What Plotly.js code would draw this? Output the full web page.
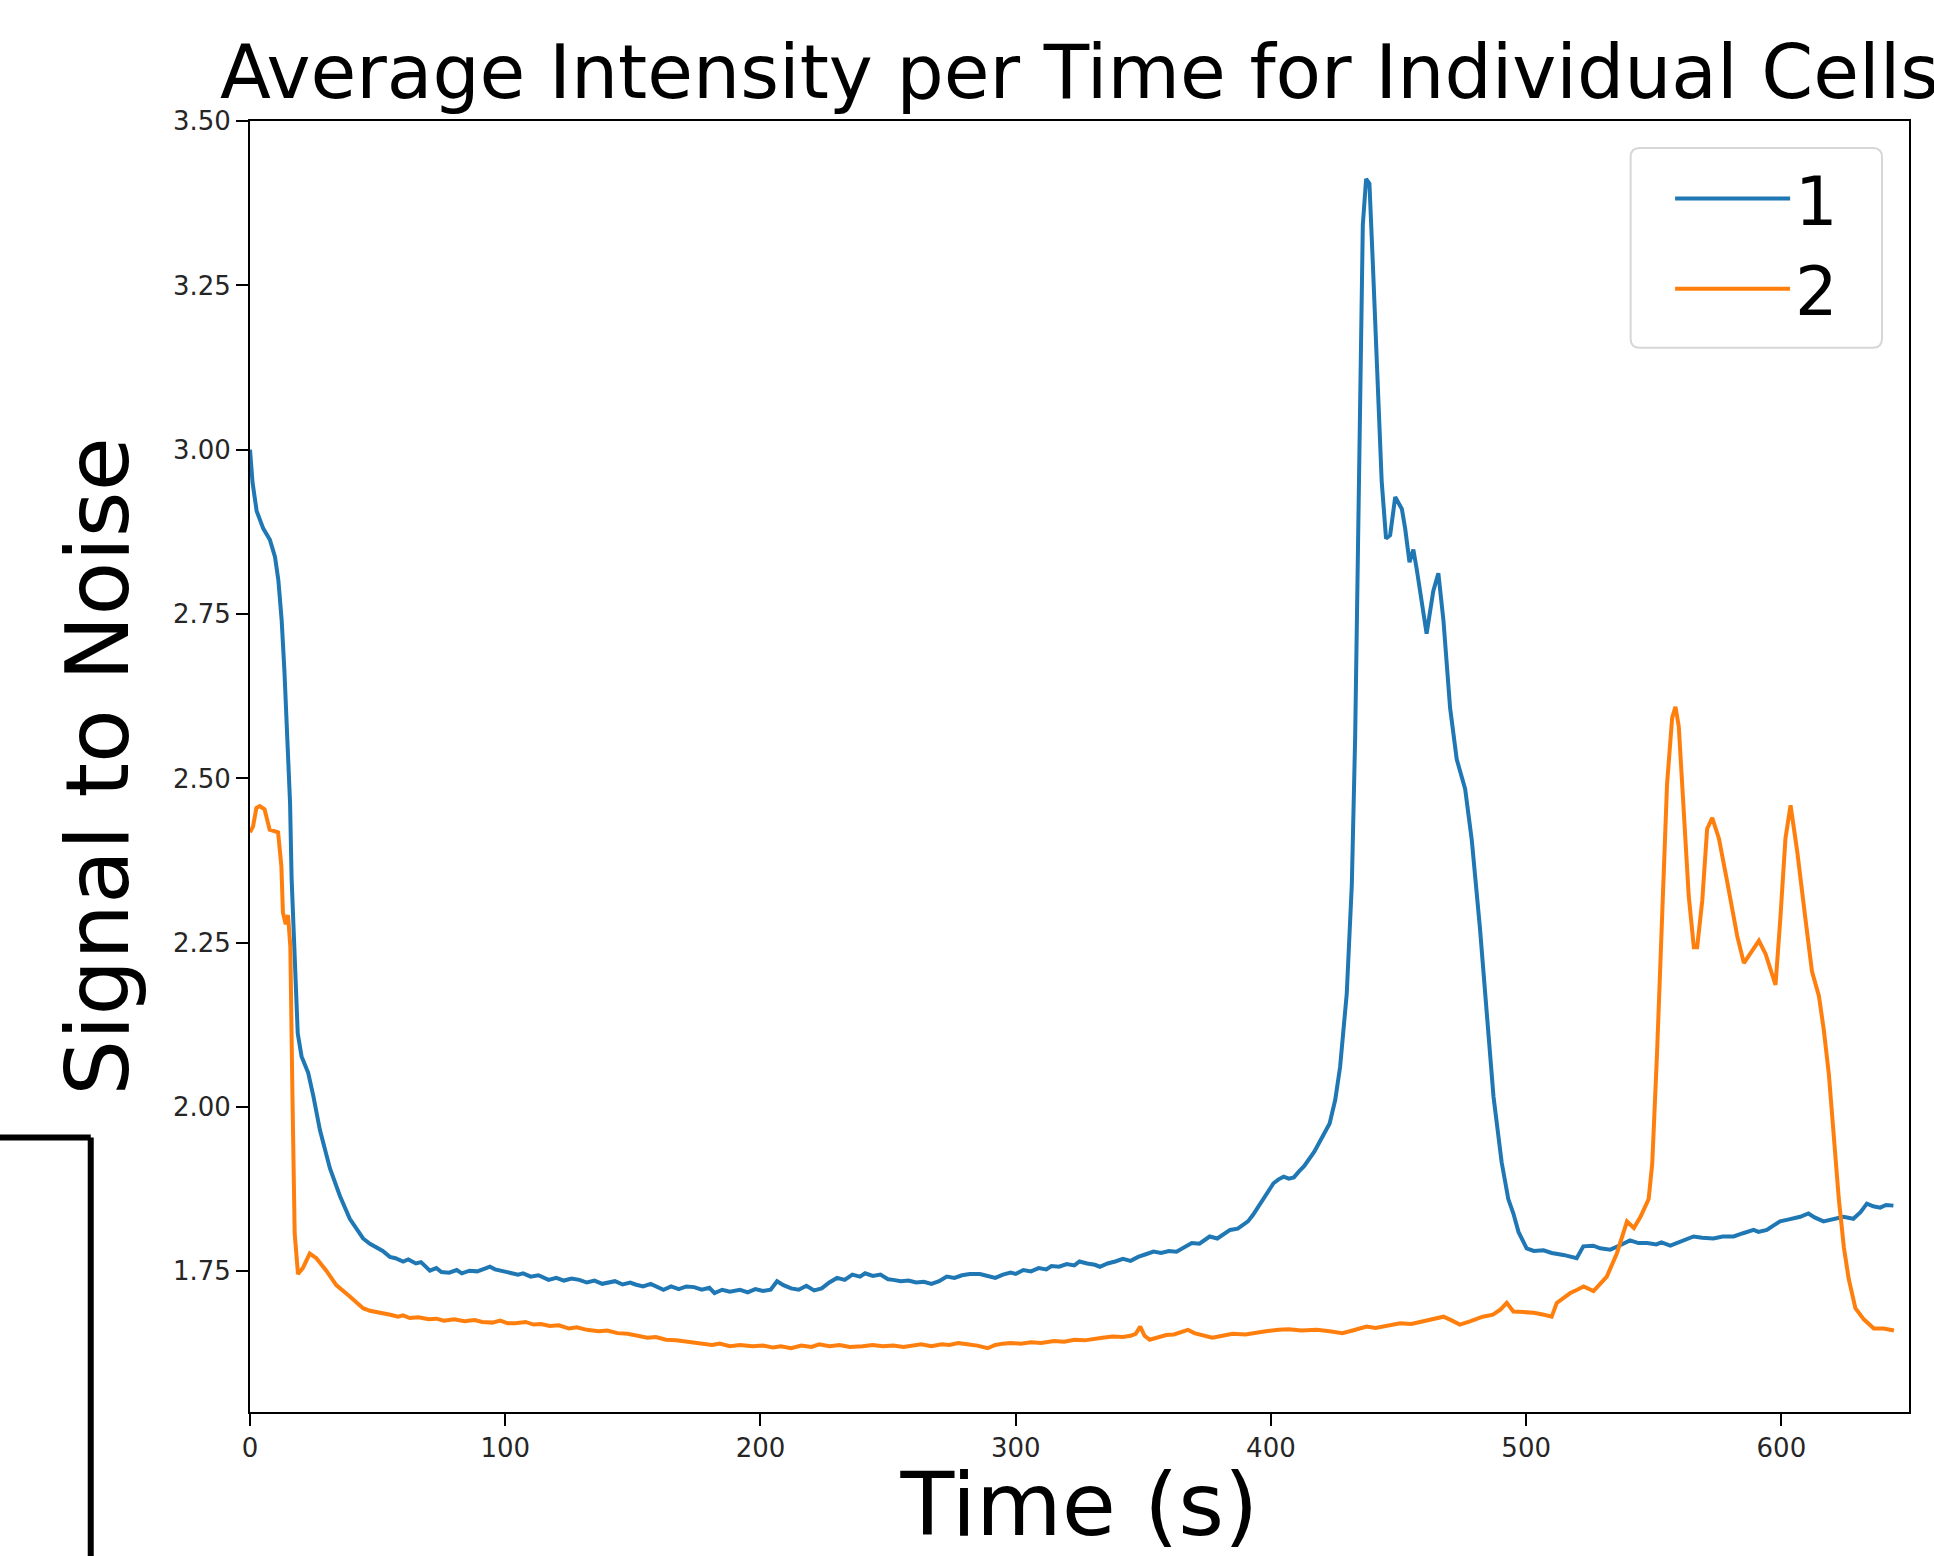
<!DOCTYPE html>
<html>
<head>
<meta charset="utf-8">
<script src="https://cdn.plot.ly/plotly-3.0.1.min.js"></script>
<style>html,body{margin:0;padding:0;background:#fff;}</style>
</head>
<body>
<div id="chart" style="width:1934px;height:1556px;"></div>
<script>
// ---- data ----
const cell1Time = [0,1,2.6,5.2,7.8,9.8,11.1,12.4,13.5,14.4,15.0,15.7,16.3,17.0,17.6,18.7,20.2,22.8,24.8,27.4,31.3,35.2,39.1,
  44.3,47,49.6,52,54.8,57,60,62,65,67,70.5,73,75,78,81,83,86,89,92,94,96,99,102,105,107,110,113,117,120,123,126,129,132,135,138,140,143,146,149,151,154,157,160,162,165,168,171,174,177,180,182,185,188,192,195,198,201,204,206.5,209,212,215,218,221,224,227,230,233,236,239,241,244,247,250,252,255,258,261,264,267,270,273,276,279,282,286,289,292,295,298,300,303,306,309,312,314,317,320,323,325,328,331,333,336,339,342,345,348,351,354,357,360,363,366,369,372,376,379,382,384,387,389,391,393,395,397,399,401,403,405,407,409,411,413,417,420,423,425.2,427.1,429.7,431.7,433,433.9,435,436,437.3,438.6,439.9,441.5,443.4,445.1,446.7,448.7,451.3,452.6,454.3,455.8,457.1,461,463.6,465.6,467.6,470.2,472.8,476.1,478.7,481.9,484.5,487.2,490.4,493,495,497,
  500.2,503,506.8,510,514.6,517,519.8,522.4,526.3,529,533,537,540.7,544,547.4,551,553,556.5,560,563,565.6,569,573.4,577,581.3,585,589.1,591,594.3,597,599.5,603,607.4,610.6,613,616.5,620,624.3,628.2,631,633.5,636,638.7,641,643.9];
const cell1Snr  = [3.00,2.95,2.907,2.88,2.863,2.837,2.802,2.741,2.662,2.583,2.557,2.462,2.348,2.27,2.191,2.112,2.077,2.052,2.017,1.965,1.907,1.865,1.83,
  1.800,1.792,1.786,1.781,1.772,1.770,1.765,1.768,1.762,1.764,1.751,1.755,1.749,1.748,1.752,1.747,1.751,1.750,1.754,1.757,1.753,1.750,1.747,1.745,1.747,1.742,1.744,1.737,1.740,1.736,1.739,1.737,1.733,1.736,1.731,1.733,1.735,1.730,1.733,1.730,1.727,1.731,1.725,1.722,1.727,1.723,1.727,1.726,1.722,1.725,1.717,1.722,1.719,1.722,1.718,1.723,1.720,1.722,1.735,1.729,1.724,1.722,1.728,1.721,1.724,1.733,1.740,1.737,1.745,1.742,1.747,1.743,1.745,1.738,1.737,1.735,1.736,1.733,1.734,1.731,1.735,1.742,1.740,1.744,1.746,1.746,1.743,1.740,1.745,1.748,1.746,1.752,1.750,1.755,1.753,1.758,1.757,1.761,1.759,1.765,1.762,1.760,1.757,1.762,1.765,1.769,1.766,1.772,1.776,1.780,1.778,1.781,1.780,1.786,1.793,1.792,1.803,1.800,1.808,1.813,1.815,1.820,1.826,1.836,1.848,1.862,1.874,1.884,1.890,1.894,1.891,1.893,1.902,1.910,1.932,1.955,1.975,2.011,2.061,2.172,2.339,2.562,2.785,3.119,3.342,3.412,3.405,3.286,3.119,2.952,2.865,2.87,2.928,2.910,2.88,2.829,2.848,2.819,2.72,2.785,2.812,2.74,2.607,2.529,2.484,2.406,2.272,2.139,2.016,1.916,1.86,1.838,1.81,
  1.785,1.781,1.782,1.778,1.775,1.773,1.770,1.788,1.789,1.785,1.783,1.790,1.797,1.793,1.793,1.791,1.794,1.789,1.795,1.799,1.803,1.801,1.800,1.803,1.803,1.808,1.813,1.810,1.813,1.820,1.826,1.829,1.833,1.838,1.832,1.826,1.829,1.833,1.830,1.840,1.853,1.849,1.847,1.851,1.850];

const cell2Time = [0,1.2,2.5,3.8,5.7,7.7,11,12.3,12.9,14,14.9,15.8,16.6,17.5,18.8,20.7,23.4,26,29.9,33.8,39,
  44.3,47,50,52,55,58,60,62.6,66,70,73,76,80,84,88,91,95,98,101,104,108,111,114,117.5,121,125,128,132,136.5,140,144,148,152,155.7,159,163,167,171,175,178,181,184,188,192,197,201,205,208,212,216,220,223,227,231,235,240,244,248,252,256,259,263,267,271,274,277.5,281,285,289,292,295,298,302,306,310,315,319,323,327,331,334,338,342,345,347,348.8,350.5,352.5,356,359,362,365,367.5,370,374,377,381,385,390,394,398,403,407,412,418,423,428,432,437.5,441,446,450.6,455,460,464,467.6,471,474,478,483,487,490,492.4,495,499,503,507,510,512,515,517.3,520,522.5,526.4,529,531.6,
  535.6,539.5,542.2,544.8,548,549.4,551.3,553.3,555.2,557.2,558.5,559.8,561.8,563.7,565.7,567,569,570.9,572.9,575.5,578.8,582.7,585.3,587.9,591.2,593.8,597.7,599.6,601.6,603.6,606.2,609.4,612,614.7,616.6,618.6,620.5,622.5,624.5,626.4,629,632.3,636.2,640.1,644.1];
const cell2Snr  = [2.418,2.427,2.455,2.458,2.453,2.422,2.418,2.366,2.296,2.278,2.292,2.244,2.026,1.808,1.746,1.755,1.777,1.77,1.751,1.729,1.712,
  1.694,1.690,1.688,1.686,1.684,1.681,1.683,1.679,1.680,1.677,1.678,1.675,1.677,1.674,1.676,1.673,1.672,1.675,1.671,1.671,1.673,1.669,1.670,1.667,1.668,1.663,1.665,1.661,1.659,1.660,1.656,1.655,1.652,1.649,1.650,1.646,1.645,1.643,1.641,1.639,1.638,1.640,1.636,1.638,1.636,1.637,1.634,1.636,1.633,1.637,1.635,1.639,1.636,1.638,1.635,1.636,1.638,1.636,1.637,1.635,1.637,1.639,1.636,1.639,1.638,1.641,1.639,1.637,1.633,1.638,1.640,1.641,1.640,1.642,1.641,1.644,1.643,1.646,1.645,1.648,1.649,1.651,1.650,1.652,1.655,1.666,1.652,1.646,1.650,1.653,1.654,1.657,1.661,1.656,1.652,1.649,1.652,1.655,1.654,1.657,1.659,1.661,1.662,1.660,1.661,1.659,1.656,1.660,1.666,1.664,1.667,1.671,1.670,1.674,1.677,1.681,1.675,1.669,1.674,1.681,1.684,1.692,1.702,1.689,1.688,1.687,1.684,1.681,1.702,1.710,1.717,1.722,1.727,1.720,1.730,1.742,
  1.778,1.826,1.816,1.833,1.86,1.914,2.084,2.287,2.491,2.592,2.609,2.579,2.437,2.321,2.243,2.243,2.314,2.423,2.44,2.409,2.342,2.26,2.219,2.233,2.253,2.233,2.186,2.287,2.409,2.459,2.389,2.287,2.206,2.169,2.118,2.05,1.962,1.86,1.786,1.738,1.694,1.677,1.663,1.663,1.66];

const seriesNames = ['1', '2'];
const xTickVals = [0, 100, 200, 300, 400, 500, 600];
const xTickText = ['0', '100', '200', '300', '400', '500', '600'];
const yTickVals = [1.75, 2.00, 2.25, 2.50, 2.75, 3.00, 3.25, 3.50];
const yTickText = ['1.75', '2.00', '2.25', '2.50', '2.75', '3.00', '3.25', '3.50'];

// ---- chart ----
const FONT = 'DejaVu Sans, Liberation Sans, sans-serif';
const traces = [
  {x: cell1Time, y: cell1Snr, name: seriesNames[0], type: 'scatter', mode: 'lines',
   line: {color: '#1f77b4', width: 4}},
  {x: cell2Time, y: cell2Snr, name: seriesNames[1], type: 'scatter', mode: 'lines',
   line: {color: '#ff7f0e', width: 4}}
];

const axisCommon = {
  showline: true, mirror: true, linecolor: '#000', linewidth: 2,
  ticks: 'outside', ticklen: 12, tickwidth: 2, tickcolor: '#000',
  tickfont: {family: FONT, size: 26, color: '#262626'},
  showgrid: false, zeroline: false, automargin: false
};

// legend frame (rounded box), paper coordinates
const bx0 = 0.8322, bx1 = 0.9837, by0 = 0.8243, by1 = 0.9791, rx = 0.0055, ry = 0.007;
const boxPath = `M${bx0+rx},${by1} L${bx1-rx},${by1} Q${bx1},${by1} ${bx1},${by1-ry} L${bx1},${by0+ry} Q${bx1},${by0} ${bx1-rx},${by0} L${bx0+rx},${by0} Q${bx0},${by0} ${bx0},${by0+ry} L${bx0},${by1-ry} Q${bx0},${by1} ${bx0+rx},${by1} Z`;

const layout = {
  width: 1934, height: 1556,
  margin: {l: 250, r: 25, t: 121, b: 144, pad: 0},
  paper_bgcolor: '#fff', plot_bgcolor: '#fff',
  font: {family: FONT, color: '#000'},
  title: {text: 'Average Intensity per Time for Individual Cells',
          font: {family: FONT, size: 74.4, color: '#000'},
          x: 0.5, xref: 'paper', xanchor: 'center',
          y: 1 - 72 / 1556, yref: 'container', yanchor: 'middle'},
  xaxis: Object.assign({}, axisCommon, {
    range: [0, 650], tickmode: 'array', tickvals: xTickVals, ticktext: xTickText,
    title: {text: 'Time (s)', font: {family: FONT, size: 88, color: '#000'}, standoff: 16}
  }),
  yaxis: Object.assign({}, axisCommon, {
    range: [1.536, 3.5002], tickmode: 'array', tickvals: yTickVals, ticktext: yTickText,
    title: {text: 'Signal to Noise', font: {family: FONT, size: 88, color: '#000'}, standoff: 15}
  }),
  showlegend: true,
  legend: {x: 0.856, xanchor: 'left', y: 0.9787, yanchor: 'top',
           font: {family: FONT, size: 67, color: '#000'},
           bgcolor: 'rgba(0,0,0,0)', borderwidth: 0,
           itemwidth: 115},
  shapes: [
    {type: 'path', xref: 'paper', yref: 'paper', path: boxPath, layer: 'above',
     fillcolor: 'rgba(255,255,255,0.8)', line: {color: '#d6d6d6', width: 2}},
    {type: 'line', xref: 'paper', yref: 'paper', x0: -0.16, x1: -0.0960, y0: 0.2126, y1: 0.2126,
     line: {color: '#000', width: 6}},
    {type: 'line', xref: 'paper', yref: 'paper', x0: -0.0960, x1: -0.0960, y0: 0.2126, y1: -0.13,
     line: {color: '#000', width: 6}}
  ]
};

Plotly.newPlot('chart', traces, layout, {displayModeBar: false, staticPlot: true});
</script>
</body>
</html>
